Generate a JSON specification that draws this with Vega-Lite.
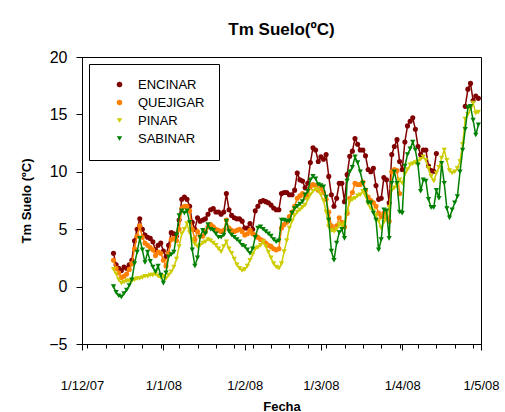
{
  "$schema": "https://vega.github.io/schema/vega-lite/v6.json",
  "autosize": "none",
  "width": 399,
  "height": 287,
  "padding": {"left": 82, "top": 57, "right": 24, "bottom": 68},
  "background": "white",
  "config": {
    "font": "Liberation Sans",
    "view": {"stroke": "black", "strokeWidth": 1},
    "axis": {"grid": false, "domainColor": "black", "tickColor": "black", "labelColor": "black", "titleColor": "black", "labelFont": "Liberation Sans", "titleFont": "Liberation Sans", "domainWidth": 1, "tickWidth": 1}
  },
  "title": {"text": "Tm Suelo(ºC)", "fontSize": 17, "fontWeight": "bold", "font": "Liberation Sans", "color": "black", "anchor": "middle", "frame": "group", "offset": 10},
  "data": {"values": [
    {"f":"2007-12-13","ENCINAR":2.9,"QUEJIGAR":2.3,"PINAR":1.5,"SABINAR":0.0},
    {"f":"2007-12-14","ENCINAR":1.9,"QUEJIGAR":1.6,"PINAR":1.1,"SABINAR":-0.5},
    {"f":"2007-12-15","ENCINAR":1.6,"QUEJIGAR":1.2,"PINAR":0.6,"SABINAR":-0.8},
    {"f":"2007-12-16","ENCINAR":1.4,"QUEJIGAR":0.8,"PINAR":0.3,"SABINAR":-0.9},
    {"f":"2007-12-17","ENCINAR":1.7,"QUEJIGAR":0.9,"PINAR":0.4,"SABINAR":-0.6},
    {"f":"2007-12-18","ENCINAR":1.6,"QUEJIGAR":1.1,"PINAR":0.5,"SABINAR":-0.3},
    {"f":"2007-12-19","ENCINAR":1.9,"QUEJIGAR":1.5,"PINAR":0.5,"SABINAR":0.1},
    {"f":"2007-12-20","ENCINAR":2.3,"QUEJIGAR":2.0,"PINAR":0.5,"SABINAR":0.6},
    {"f":"2007-12-21","ENCINAR":4.0,"QUEJIGAR":3.3,"PINAR":0.6,"SABINAR":2.0},
    {"f":"2007-12-22","ENCINAR":5.0,"QUEJIGAR":4.4,"PINAR":0.7,"SABINAR":3.0},
    {"f":"2007-12-23","ENCINAR":5.9,"QUEJIGAR":5.3,"PINAR":0.7,"SABINAR":4.2},
    {"f":"2007-12-24","ENCINAR":5.0,"QUEJIGAR":4.3,"PINAR":0.8,"SABINAR":3.2},
    {"f":"2007-12-25","ENCINAR":4.5,"QUEJIGAR":3.8,"PINAR":0.9,"SABINAR":2.1},
    {"f":"2007-12-26","ENCINAR":4.3,"QUEJIGAR":3.6,"PINAR":0.9,"SABINAR":3.0},
    {"f":"2007-12-27","ENCINAR":4.2,"QUEJIGAR":3.4,"PINAR":1.0,"SABINAR":2.2},
    {"f":"2007-12-28","ENCINAR":3.9,"QUEJIGAR":3.2,"PINAR":1.0,"SABINAR":1.7},
    {"f":"2007-12-29","ENCINAR":3.2,"QUEJIGAR":2.7,"PINAR":1.1,"SABINAR":1.3},
    {"f":"2007-12-30","ENCINAR":3.6,"QUEJIGAR":3.0,"PINAR":0.9,"SABINAR":1.8},
    {"f":"2007-12-31","ENCINAR":3.8,"QUEJIGAR":2.9,"PINAR":0.8,"SABINAR":1.0},
    {"f":"2008-01-01","ENCINAR":3.1,"QUEJIGAR":2.3,"PINAR":0.9,"SABINAR":0.3},
    {"f":"2008-01-02","ENCINAR":2.6,"QUEJIGAR":1.8,"PINAR":0.7,"SABINAR":1.2},
    {"f":"2008-01-03","ENCINAR":3.6,"QUEJIGAR":2.9,"PINAR":1.0,"SABINAR":2.6},
    {"f":"2008-01-04","ENCINAR":4.7,"QUEJIGAR":4.1,"PINAR":1.3,"SABINAR":2.8},
    {"f":"2008-01-05","ENCINAR":4.6,"QUEJIGAR":4.2,"PINAR":1.7,"SABINAR":3.0},
    {"f":"2008-01-06","ENCINAR":4.4,"QUEJIGAR":4.0,"PINAR":2.4,"SABINAR":4.5},
    {"f":"2008-01-07","ENCINAR":5.8,"QUEJIGAR":5.0,"PINAR":3.5,"SABINAR":6.2},
    {"f":"2008-01-08","ENCINAR":7.6,"QUEJIGAR":6.8,"PINAR":4.6,"SABINAR":6.6},
    {"f":"2008-01-09","ENCINAR":7.8,"QUEJIGAR":7.0,"PINAR":5.0,"SABINAR":6.4},
    {"f":"2008-01-10","ENCINAR":7.6,"QUEJIGAR":7.0,"PINAR":5.5,"SABINAR":6.6},
    {"f":"2008-01-11","ENCINAR":7.0,"QUEJIGAR":6.6,"PINAR":4.7,"SABINAR":5.6},
    {"f":"2008-01-12","ENCINAR":5.6,"QUEJIGAR":5.0,"PINAR":4.1,"SABINAR":3.2},
    {"f":"2008-01-13","ENCINAR":5.0,"QUEJIGAR":4.1,"PINAR":3.7,"SABINAR":1.8},
    {"f":"2008-01-14","ENCINAR":6.0,"QUEJIGAR":4.8,"PINAR":3.5,"SABINAR":2.5},
    {"f":"2008-01-15","ENCINAR":5.7,"QUEJIGAR":4.4,"PINAR":3.6,"SABINAR":4.3},
    {"f":"2008-01-16","ENCINAR":5.8,"QUEJIGAR":4.4,"PINAR":3.8,"SABINAR":4.9},
    {"f":"2008-01-17","ENCINAR":5.9,"QUEJIGAR":4.8,"PINAR":3.9,"SABINAR":4.6},
    {"f":"2008-01-18","ENCINAR":6.3,"QUEJIGAR":5.2,"PINAR":4.1,"SABINAR":5.4},
    {"f":"2008-01-19","ENCINAR":6.7,"QUEJIGAR":5.4,"PINAR":4.0,"SABINAR":5.0},
    {"f":"2008-01-20","ENCINAR":6.8,"QUEJIGAR":5.2,"PINAR":3.8,"SABINAR":4.9},
    {"f":"2008-01-21","ENCINAR":6.5,"QUEJIGAR":5.0,"PINAR":3.6,"SABINAR":4.6},
    {"f":"2008-01-22","ENCINAR":6.5,"QUEJIGAR":4.9,"PINAR":3.3,"SABINAR":4.3},
    {"f":"2008-01-23","ENCINAR":6.3,"QUEJIGAR":4.8,"PINAR":3.05,"SABINAR":4.3},
    {"f":"2008-01-24","ENCINAR":6.5,"QUEJIGAR":4.9,"PINAR":3.5,"SABINAR":4.5},
    {"f":"2008-01-25","ENCINAR":8.1,"QUEJIGAR":5.8,"PINAR":3.9,"SABINAR":5.7},
    {"f":"2008-01-26","ENCINAR":6.7,"QUEJIGAR":5.1,"PINAR":3.3,"SABINAR":4.8},
    {"f":"2008-01-27","ENCINAR":6.2,"QUEJIGAR":4.9,"PINAR":2.9,"SABINAR":4.5},
    {"f":"2008-01-28","ENCINAR":6.0,"QUEJIGAR":4.8,"PINAR":2.4,"SABINAR":4.3},
    {"f":"2008-01-29","ENCINAR":5.9,"QUEJIGAR":4.9,"PINAR":1.9,"SABINAR":4.1},
    {"f":"2008-01-30","ENCINAR":5.9,"QUEJIGAR":5.0,"PINAR":1.6,"SABINAR":3.9},
    {"f":"2008-01-31","ENCINAR":5.7,"QUEJIGAR":4.8,"PINAR":1.4,"SABINAR":3.6},
    {"f":"2008-02-01","ENCINAR":5.1,"QUEJIGAR":4.5,"PINAR":1.5,"SABINAR":3.5},
    {"f":"2008-02-02","ENCINAR":5.1,"QUEJIGAR":4.6,"PINAR":1.8,"SABINAR":3.2},
    {"f":"2008-02-03","ENCINAR":5.5,"QUEJIGAR":4.9,"PINAR":2.3,"SABINAR":2.9},
    {"f":"2008-02-04","ENCINAR":5.0,"QUEJIGAR":4.6,"PINAR":2.8,"SABINAR":3.3},
    {"f":"2008-02-05","ENCINAR":6.6,"QUEJIGAR":4.5,"PINAR":3.3,"SABINAR":4.3},
    {"f":"2008-02-06","ENCINAR":7.0,"QUEJIGAR":4.3,"PINAR":3.4,"SABINAR":5.1},
    {"f":"2008-02-07","ENCINAR":7.4,"QUEJIGAR":4.1,"PINAR":3.6,"SABINAR":5.2},
    {"f":"2008-02-08","ENCINAR":7.5,"QUEJIGAR":4.0,"PINAR":3.9,"SABINAR":5.0},
    {"f":"2008-02-09","ENCINAR":7.4,"QUEJIGAR":3.8,"PINAR":3.5,"SABINAR":4.8},
    {"f":"2008-02-10","ENCINAR":7.3,"QUEJIGAR":3.6,"PINAR":3.0,"SABINAR":4.6},
    {"f":"2008-02-11","ENCINAR":7.1,"QUEJIGAR":3.5,"PINAR":2.5,"SABINAR":4.4},
    {"f":"2008-02-12","ENCINAR":6.85,"QUEJIGAR":3.3,"PINAR":2.0,"SABINAR":4.1},
    {"f":"2008-02-13","ENCINAR":6.7,"QUEJIGAR":3.2,"PINAR":1.7,"SABINAR":3.9},
    {"f":"2008-02-14","ENCINAR":6.7,"QUEJIGAR":3.3,"PINAR":1.6,"SABINAR":4.0},
    {"f":"2008-02-15","ENCINAR":8.1,"QUEJIGAR":5.1,"PINAR":2.0,"SABINAR":5.8},
    {"f":"2008-02-16","ENCINAR":8.2,"QUEJIGAR":5.4,"PINAR":3.05,"SABINAR":5.8},
    {"f":"2008-02-17","ENCINAR":8.2,"QUEJIGAR":5.6,"PINAR":4.0,"SABINAR":5.7},
    {"f":"2008-02-18","ENCINAR":8.0,"QUEJIGAR":6.1,"PINAR":5.1,"SABINAR":5.7},
    {"f":"2008-02-19","ENCINAR":8.0,"QUEJIGAR":6.5,"PINAR":5.7,"SABINAR":6.4},
    {"f":"2008-02-20","ENCINAR":8.4,"QUEJIGAR":7.0,"PINAR":6.2,"SABINAR":6.8},
    {"f":"2008-02-21","ENCINAR":9.9,"QUEJIGAR":7.7,"PINAR":6.5,"SABINAR":7.0},
    {"f":"2008-02-22","ENCINAR":9.3,"QUEJIGAR":7.9,"PINAR":6.7,"SABINAR":7.2},
    {"f":"2008-02-23","ENCINAR":9.2,"QUEJIGAR":8.1,"PINAR":6.9,"SABINAR":7.4},
    {"f":"2008-02-24","ENCINAR":8.6,"QUEJIGAR":7.8,"PINAR":7.1,"SABINAR":8.0},
    {"f":"2008-02-25","ENCINAR":9.0,"QUEJIGAR":8.0,"PINAR":7.6,"SABINAR":8.3},
    {"f":"2008-02-26","ENCINAR":10.8,"QUEJIGAR":8.7,"PINAR":8.0,"SABINAR":9.3},
    {"f":"2008-02-27","ENCINAR":12.1,"QUEJIGAR":8.9,"PINAR":8.3,"SABINAR":9.6},
    {"f":"2008-02-28","ENCINAR":11.9,"QUEJIGAR":8.8,"PINAR":8.5,"SABINAR":9.4},
    {"f":"2008-02-29","ENCINAR":10.9,"QUEJIGAR":8.4,"PINAR":8.4,"SABINAR":8.9},
    {"f":"2008-03-01","ENCINAR":11.3,"QUEJIGAR":8.6,"PINAR":8.0,"SABINAR":8.8},
    {"f":"2008-03-02","ENCINAR":11.1,"QUEJIGAR":8.2,"PINAR":7.5,"SABINAR":8.7},
    {"f":"2008-03-03","ENCINAR":11.5,"QUEJIGAR":7.6,"PINAR":6.5,"SABINAR":7.8},
    {"f":"2008-03-04","ENCINAR":9.6,"QUEJIGAR":6.5,"PINAR":5.2,"SABINAR":5.8},
    {"f":"2008-03-05","ENCINAR":8.0,"QUEJIGAR":5.3,"PINAR":4.9,"SABINAR":3.1},
    {"f":"2008-03-06","ENCINAR":7.0,"QUEJIGAR":5.0,"PINAR":4.8,"SABINAR":2.3},
    {"f":"2008-03-07","ENCINAR":7.7,"QUEJIGAR":5.3,"PINAR":5.0,"SABINAR":3.8},
    {"f":"2008-03-08","ENCINAR":9.0,"QUEJIGAR":6.0,"PINAR":5.4,"SABINAR":4.7},
    {"f":"2008-03-09","ENCINAR":9.0,"QUEJIGAR":5.6,"PINAR":5.3,"SABINAR":5.0},
    {"f":"2008-03-10","ENCINAR":7.4,"QUEJIGAR":5.2,"PINAR":5.5,"SABINAR":4.2},
    {"f":"2008-03-11","ENCINAR":9.75,"QUEJIGAR":6.4,"PINAR":6.5,"SABINAR":9.2},
    {"f":"2008-03-12","ENCINAR":11.35,"QUEJIGAR":7.7,"PINAR":7.4,"SABINAR":10.0},
    {"f":"2008-03-13","ENCINAR":11.8,"QUEJIGAR":8.2,"PINAR":7.6,"SABINAR":10.4},
    {"f":"2008-03-14","ENCINAR":12.9,"QUEJIGAR":9.0,"PINAR":7.7,"SABINAR":11.3},
    {"f":"2008-03-15","ENCINAR":12.4,"QUEJIGAR":8.9,"PINAR":7.9,"SABINAR":10.8},
    {"f":"2008-03-16","ENCINAR":11.9,"QUEJIGAR":8.9,"PINAR":8.0,"SABINAR":10.0},
    {"f":"2008-03-17","ENCINAR":11.9,"QUEJIGAR":9.1,"PINAR":8.3,"SABINAR":9.0},
    {"f":"2008-03-18","ENCINAR":11.4,"QUEJIGAR":8.4,"PINAR":7.9,"SABINAR":8.4},
    {"f":"2008-03-19","ENCINAR":10.2,"QUEJIGAR":7.8,"PINAR":7.2,"SABINAR":7.3},
    {"f":"2008-03-20","ENCINAR":10.0,"QUEJIGAR":7.5,"PINAR":6.8,"SABINAR":7.3},
    {"f":"2008-03-21","ENCINAR":10.3,"QUEJIGAR":7.3,"PINAR":6.6,"SABINAR":6.4},
    {"f":"2008-03-22","ENCINAR":8.8,"QUEJIGAR":7.0,"PINAR":6.2,"SABINAR":5.8},
    {"f":"2008-03-23","ENCINAR":7.6,"QUEJIGAR":6.4,"PINAR":5.7,"SABINAR":3.2},
    {"f":"2008-03-24","ENCINAR":7.7,"QUEJIGAR":6.1,"PINAR":5.1,"SABINAR":4.1},
    {"f":"2008-03-25","ENCINAR":9.5,"QUEJIGAR":6.4,"PINAR":5.6,"SABINAR":6.7},
    {"f":"2008-03-26","ENCINAR":9.3,"QUEJIGAR":6.0,"PINAR":6.1,"SABINAR":6.6},
    {"f":"2008-03-27","ENCINAR":7.3,"QUEJIGAR":5.7,"PINAR":6.9,"SABINAR":4.2},
    {"f":"2008-03-28","ENCINAR":11.5,"QUEJIGAR":10.0,"PINAR":8.4,"SABINAR":9.0},
    {"f":"2008-03-29","ENCINAR":12.2,"QUEJIGAR":10.2,"PINAR":8.6,"SABINAR":10.0},
    {"f":"2008-03-30","ENCINAR":12.8,"QUEJIGAR":10.1,"PINAR":8.8,"SABINAR":9.0},
    {"f":"2008-03-31","ENCINAR":10.9,"QUEJIGAR":8.1,"PINAR":9.3,"SABINAR":6.5},
    {"f":"2008-04-01","ENCINAR":10.2,"QUEJIGAR":null,"PINAR":9.0,"SABINAR":6.4},
    {"f":"2008-04-02","ENCINAR":12.6,"QUEJIGAR":null,"PINAR":9.8,"SABINAR":10.5},
    {"f":"2008-04-03","ENCINAR":14.0,"QUEJIGAR":null,"PINAR":10.2,"SABINAR":11.5},
    {"f":"2008-04-04","ENCINAR":14.4,"QUEJIGAR":null,"PINAR":10.6,"SABINAR":12.0},
    {"f":"2008-04-05","ENCINAR":14.7,"QUEJIGAR":null,"PINAR":10.7,"SABINAR":12.6},
    {"f":"2008-04-06","ENCINAR":13.7,"QUEJIGAR":null,"PINAR":10.8,"SABINAR":11.9},
    {"f":"2008-04-07","ENCINAR":12.2,"QUEJIGAR":null,"PINAR":10.9,"SABINAR":10.6},
    {"f":"2008-04-08","ENCINAR":11.5,"QUEJIGAR":null,"PINAR":11.1,"SABINAR":8.3},
    {"f":"2008-04-09","ENCINAR":11.9,"QUEJIGAR":null,"PINAR":11.3,"SABINAR":9.3},
    {"f":"2008-04-10","ENCINAR":11.9,"QUEJIGAR":null,"PINAR":11.0,"SABINAR":9.2},
    {"f":"2008-04-11","ENCINAR":10.5,"QUEJIGAR":null,"PINAR":10.3,"SABINAR":7.6},
    {"f":"2008-04-12","ENCINAR":10.1,"QUEJIGAR":null,"PINAR":9.6,"SABINAR":6.9},
    {"f":"2008-04-13","ENCINAR":10.05,"QUEJIGAR":null,"PINAR":9.2,"SABINAR":6.9},
    {"f":"2008-04-14","ENCINAR":11.6,"QUEJIGAR":null,"PINAR":9.9,"SABINAR":8.4},
    {"f":"2008-04-15","ENCINAR":null,"QUEJIGAR":null,"PINAR":10.4,"SABINAR":7.7},
    {"f":"2008-04-16","ENCINAR":null,"QUEJIGAR":null,"PINAR":11.2,"SABINAR":10.75},
    {"f":"2008-04-17","ENCINAR":null,"QUEJIGAR":null,"PINAR":11.9,"SABINAR":9.0},
    {"f":"2008-04-18","ENCINAR":null,"QUEJIGAR":null,"PINAR":11.0,"SABINAR":6.8},
    {"f":"2008-04-19","ENCINAR":null,"QUEJIGAR":null,"PINAR":10.1,"SABINAR":6.0},
    {"f":"2008-04-20","ENCINAR":null,"QUEJIGAR":null,"PINAR":9.9,"SABINAR":6.7},
    {"f":"2008-04-21","ENCINAR":null,"QUEJIGAR":null,"PINAR":10.0,"SABINAR":7.3},
    {"f":"2008-04-22","ENCINAR":null,"QUEJIGAR":null,"PINAR":10.3,"SABINAR":7.85},
    {"f":"2008-04-23","ENCINAR":null,"QUEJIGAR":null,"PINAR":10.9,"SABINAR":10.0},
    {"f":"2008-04-24","ENCINAR":null,"QUEJIGAR":null,"PINAR":12.4,"SABINAR":11.9},
    {"f":"2008-04-25","ENCINAR":15.7,"QUEJIGAR":null,"PINAR":14.6,"SABINAR":13.7},
    {"f":"2008-04-26","ENCINAR":17.2,"QUEJIGAR":null,"PINAR":15.0,"SABINAR":15.6},
    {"f":"2008-04-27","ENCINAR":17.7,"QUEJIGAR":null,"PINAR":15.5,"SABINAR":15.7},
    {"f":"2008-04-28","ENCINAR":16.2,"QUEJIGAR":null,"PINAR":16.0,"SABINAR":14.5},
    {"f":"2008-04-29","ENCINAR":16.6,"QUEJIGAR":null,"PINAR":15.1,"SABINAR":13.2},
    {"f":"2008-04-30","ENCINAR":16.4,"QUEJIGAR":null,"PINAR":15.2,"SABINAR":14.1}
  ]},
  "transform": [{"fold": ["ENCINAR", "QUEJIGAR", "PINAR", "SABINAR"], "as": ["s", "v"]}],
  "encoding": {
    "x": {
      "field": "f", "type": "temporal", "title": "Fecha",
      "scale": {"type": "utc", "nice": false, "domain": [{"year": 2007, "month": 12, "date": 1, "utc": true}, {"year": 2008, "month": 5, "date": 1, "utc": true}]},
      "axis": {
        "values": [
          {"year": 2007, "month": 12, "date": 1, "utc": true},
          {"year": 2007, "month": 12, "date": 3, "utc": true},
          {"year": 2007, "month": 12, "date": 10, "utc": true},
          {"year": 2007, "month": 12, "date": 17, "utc": true},
          {"year": 2007, "month": 12, "date": 24, "utc": true},
          {"year": 2007, "month": 12, "date": 31, "utc": true},
          {"year": 2008, "month": 1, "date": 1, "utc": true},
          {"year": 2008, "month": 1, "date": 7, "utc": true},
          {"year": 2008, "month": 1, "date": 14, "utc": true},
          {"year": 2008, "month": 1, "date": 21, "utc": true},
          {"year": 2008, "month": 1, "date": 28, "utc": true},
          {"year": 2008, "month": 2, "date": 1, "utc": true},
          {"year": 2008, "month": 2, "date": 4, "utc": true},
          {"year": 2008, "month": 2, "date": 11, "utc": true},
          {"year": 2008, "month": 2, "date": 18, "utc": true},
          {"year": 2008, "month": 2, "date": 25, "utc": true},
          {"year": 2008, "month": 3, "date": 1, "utc": true},
          {"year": 2008, "month": 3, "date": 3, "utc": true},
          {"year": 2008, "month": 3, "date": 10, "utc": true},
          {"year": 2008, "month": 3, "date": 17, "utc": true},
          {"year": 2008, "month": 3, "date": 24, "utc": true},
          {"year": 2008, "month": 3, "date": 31, "utc": true},
          {"year": 2008, "month": 4, "date": 1, "utc": true},
          {"year": 2008, "month": 4, "date": 7, "utc": true},
          {"year": 2008, "month": 4, "date": 14, "utc": true},
          {"year": 2008, "month": 4, "date": 21, "utc": true},
          {"year": 2008, "month": 4, "date": 28, "utc": true},
          {"year": 2008, "month": 5, "date": 1, "utc": true}
        ],
        "labelExpr": "utcdate(datum.value) == 1 ? utcFormat(datum.value, '%-d/%-m/%y') : ''",
        "tickSize": {"condition": {"test": "utcdate(datum.value) == 1", "value": 6}, "value": 4},
        "labelOverlap": false, "labelFontSize": 13, "labelPadding": 29, "labelBound": false, "labelFlush": false,
        "titleFontSize": 13, "titleFontWeight": "bold", "titlePadding": 8
      }
    },
    "y": {
      "field": "v", "type": "quantitative", "title": "Tm Suelo (ºC)",
      "scale": {"domain": [-5, 20], "nice": false, "zero": false},
      "axis": {"values": [-5, 0, 5, 10, 15, 20], "tickSize": 6, "labelFontSize": 16, "labelPadding": 9, "titleFontSize": 13, "titleFontWeight": "bold", "titlePadding": 15}
    }
  },
  "layer": [
    {
      "transform": [{"filter": "datum.s === 'ENCINAR'"}],
      "mark": {"type": "line", "strokeWidth": 1.5, "color": "#800000", "invalid": "break-paths-filter-domains"}
    },
    {
      "transform": [{"filter": "datum.s === 'ENCINAR' && isValid(datum.v)"}],
      "mark": {"type": "point", "filled": true, "size": 26, "opacity": 1},
      "encoding": {
        "color": {"field": "s", "type": "nominal", "scale": {"domain": ["ENCINAR", "QUEJIGAR", "PINAR", "SABINAR"], "range": ["#800000", "#FF8000", "#CCCC00", "#008000"]}, "legend": {"title": null, "orient": "none", "legendX": 7, "legendY": 7, "strokeColor": "black", "fillColor": "white", "padding": 14, "rowPadding": 4, "labelFontSize": 13, "labelFont": "Liberation Sans", "labelColor": "black", "symbolSize": 30, "symbolOffset": 10, "labelOffset": 12}},
        "shape": {"field": "s", "type": "nominal", "scale": {"domain": ["ENCINAR", "QUEJIGAR", "PINAR", "SABINAR"], "range": ["circle", "circle", "triangle-down", "triangle-down"]}, "legend": {"title": null, "orient": "none", "legendX": 7, "legendY": 7, "strokeColor": "black", "fillColor": "white", "padding": 14, "rowPadding": 4, "labelFontSize": 13, "labelFont": "Liberation Sans", "labelColor": "black", "symbolSize": 30, "symbolOffset": 10, "labelOffset": 12}}
      }
    },
    {
      "transform": [{"filter": "datum.s === 'QUEJIGAR'"}],
      "mark": {"type": "line", "strokeWidth": 1.5, "color": "#FF8000", "invalid": "break-paths-filter-domains"}
    },
    {
      "transform": [{"filter": "datum.s === 'QUEJIGAR' && isValid(datum.v)"}],
      "mark": {"type": "point", "filled": true, "size": 26, "opacity": 1},
      "encoding": {
        "color": {"field": "s", "type": "nominal", "legend": {"title": null, "orient": "none", "legendX": 7, "legendY": 7, "strokeColor": "black", "fillColor": "white", "padding": 14, "rowPadding": 4, "labelFontSize": 13, "labelFont": "Liberation Sans", "labelColor": "black", "symbolSize": 30, "symbolOffset": 10, "labelOffset": 12}},
        "shape": {"field": "s", "type": "nominal", "legend": {"title": null, "orient": "none", "legendX": 7, "legendY": 7, "strokeColor": "black", "fillColor": "white", "padding": 14, "rowPadding": 4, "labelFontSize": 13, "labelFont": "Liberation Sans", "labelColor": "black", "symbolSize": 30, "symbolOffset": 10, "labelOffset": 12}}
      }
    },
    {
      "transform": [{"filter": "datum.s === 'PINAR'"}],
      "mark": {"type": "line", "strokeWidth": 1.5, "color": "#CCCC00", "invalid": "break-paths-filter-domains"}
    },
    {
      "transform": [{"filter": "datum.s === 'PINAR' && isValid(datum.v)"}],
      "mark": {"type": "point", "filled": true, "size": 28, "opacity": 1},
      "encoding": {
        "color": {"field": "s", "type": "nominal", "legend": {"title": null, "orient": "none", "legendX": 7, "legendY": 7, "strokeColor": "black", "fillColor": "white", "padding": 14, "rowPadding": 4, "labelFontSize": 13, "labelFont": "Liberation Sans", "labelColor": "black", "symbolSize": 30, "symbolOffset": 10, "labelOffset": 12}},
        "shape": {"field": "s", "type": "nominal", "legend": {"title": null, "orient": "none", "legendX": 7, "legendY": 7, "strokeColor": "black", "fillColor": "white", "padding": 14, "rowPadding": 4, "labelFontSize": 13, "labelFont": "Liberation Sans", "labelColor": "black", "symbolSize": 30, "symbolOffset": 10, "labelOffset": 12}}
      }
    },
    {
      "transform": [{"filter": "datum.s === 'SABINAR'"}],
      "mark": {"type": "line", "strokeWidth": 1.5, "color": "#008000", "invalid": "break-paths-filter-domains"}
    },
    {
      "transform": [{"filter": "datum.s === 'SABINAR' && isValid(datum.v)"}],
      "mark": {"type": "point", "filled": true, "size": 28, "opacity": 1},
      "encoding": {
        "color": {"field": "s", "type": "nominal", "legend": {"title": null, "orient": "none", "legendX": 7, "legendY": 7, "strokeColor": "black", "fillColor": "white", "padding": 14, "rowPadding": 4, "labelFontSize": 13, "labelFont": "Liberation Sans", "labelColor": "black", "symbolSize": 30, "symbolOffset": 10, "labelOffset": 12}},
        "shape": {"field": "s", "type": "nominal", "legend": {"title": null, "orient": "none", "legendX": 7, "legendY": 7, "strokeColor": "black", "fillColor": "white", "padding": 14, "rowPadding": 4, "labelFontSize": 13, "labelFont": "Liberation Sans", "labelColor": "black", "symbolSize": 30, "symbolOffset": 10, "labelOffset": 12}}
      }
    }
  ]
}
